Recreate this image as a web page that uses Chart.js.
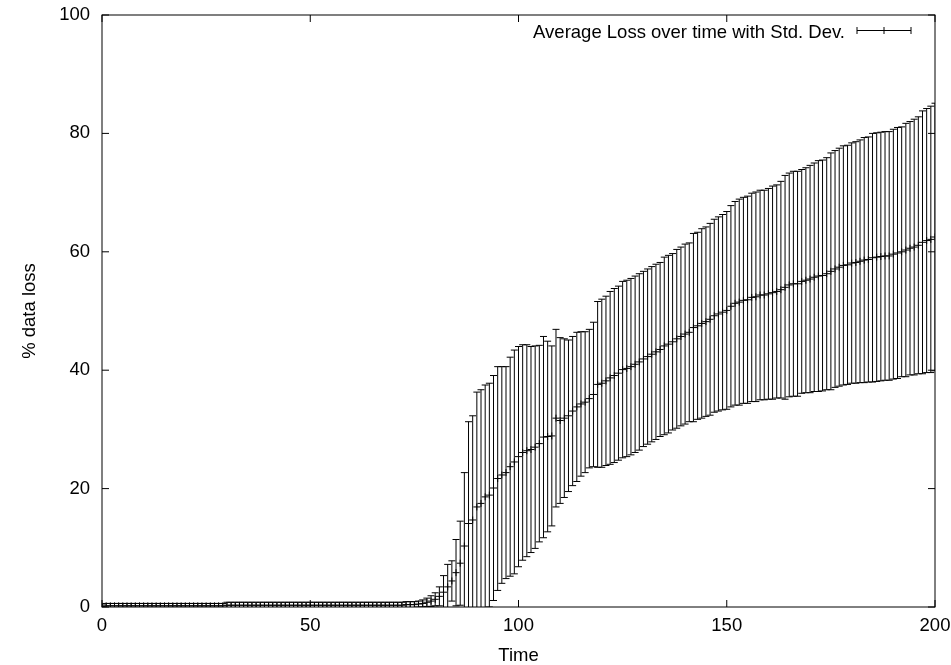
<!DOCTYPE html>
<html>
<head>
<meta charset="utf-8">
<title>Average Loss over time</title>
<script src="https://cdn.jsdelivr.net/npm/chart.js@4/dist/chart.umd.min.js"></script>
<style>
    html, body { margin: 0; padding: 0; background: #fff; }
    #lossChart { display: block; }
</style>
</head>
<body>
<canvas id="lossChart" width="951" height="665"></canvas>
<script>
// Datos (gnuplot, yerrorbars)

// Media de la perdida para cada paso de tiempo t = 0..200
const meanLoss = [
    0.1, 0.2, 0.2, 0.2, 0.2, 0.2, 0.2, 0.2, 0.2, 0.2,
    0.2, 0.2, 0.2, 0.2, 0.2, 0.2, 0.2, 0.2, 0.2, 0.2,
    0.2, 0.2, 0.2, 0.2, 0.2, 0.2, 0.2, 0.2, 0.2, 0.2,
    0.3, 0.3, 0.3, 0.3, 0.3, 0.3, 0.3, 0.3, 0.3, 0.3,
    0.3, 0.3, 0.3, 0.3, 0.3, 0.3, 0.3, 0.3, 0.3, 0.3,
    0.3, 0.3, 0.3, 0.3, 0.3, 0.3, 0.3, 0.3, 0.3, 0.3,
    0.3, 0.3, 0.3, 0.3, 0.3, 0.3, 0.3, 0.3, 0.3, 0.3,
    0.3, 0.3, 0.3, 0.4, 0.4,
    0.4, 0.5, 0.6, 0.8, 1.0, 1.3, 1.8, 2.5, 3.4, 4.4, 5.8, 7.4, 10.3, 14.1, 14.7, 16.9, 17.5, 18.6, 18.9,
    20.1, 21.7, 22.3, 22.7, 23.7, 24.5, 25.4, 26.1, 26.4, 26.6, 27.0, 27.6, 28.7, 28.8, 28.9, 31.9,
    31.5, 31.9, 32.3, 33.1, 33.8, 34.3, 34.6, 35.2, 35.9, 37.6, 37.8, 38.2, 38.7, 39.1, 39.5, 40.1, 40.3,
    40.6, 41.0, 41.4, 41.9, 42.3, 42.7, 43.1, 43.5, 44.1, 44.4, 44.8, 45.3, 45.7, 46.1, 46.4, 47.2,
    47.5, 47.9, 48.2, 48.6, 49.2, 49.5, 49.8, 50.1, 50.8,
    51.3, 51.5, 51.8, 51.9, 52.3, 52.4, 52.7, 52.7, 52.9, 53.1, 53.3, 53.6, 54.0, 54.4, 54.6, 54.6,
    55.0, 55.2, 55.4, 55.7, 55.9, 56.0, 56.3, 56.7, 57.1,
    57.4, 57.7, 57.8, 58.1, 58.2, 58.4, 58.6, 58.7, 59.0, 59.1, 59.2, 59.3, 59.3, 59.6, 59.8, 60.0,
    60.3, 60.6, 60.8, 61.1, 61.6, 61.9, 62.1, 62.5
];

// Desviacion estandar para cada paso de tiempo
const stdDev = [
    0.4, 0.4, 0.4, 0.4, 0.4, 0.4, 0.4, 0.4, 0.4, 0.4,
    0.4, 0.4, 0.4, 0.4, 0.4, 0.4, 0.4, 0.4, 0.4, 0.4,
    0.4, 0.4, 0.4, 0.4, 0.4, 0.4, 0.4, 0.4, 0.4, 0.4,
    0.5, 0.5, 0.5, 0.5, 0.5, 0.5, 0.5, 0.5, 0.5, 0.5,
    0.5, 0.5, 0.5, 0.5, 0.5, 0.5, 0.5, 0.5, 0.5, 0.5,
    0.5, 0.5, 0.5, 0.5, 0.5, 0.5, 0.5, 0.5, 0.5, 0.5,
    0.5, 0.5, 0.5, 0.5, 0.5, 0.5, 0.5, 0.5, 0.5, 0.5,
    0.5, 0.5, 0.5, 0.5, 0.5,
    0.5, 0.5, 0.6, 0.7, 0.9, 1.1, 1.6, 2.8, 3.8, 3.4, 5.6, 7.1, 12.4, 17.2, 17.6, 19.4, 19.2, 18.9, 18.9,
    19.0, 18.9, 18.3, 17.9, 18.5, 18.9, 18.6, 18.2, 17.9, 17.4, 17.1, 16.6, 17.0, 16.1, 15.2, 15.0,
    14.0, 13.4, 12.8, 12.6, 12.6, 12.2, 11.9, 11.7, 12.2, 14.0, 14.2, 14.3, 14.6, 14.7, 14.7, 14.9, 14.9,
    14.9, 14.9, 14.9, 14.8, 14.8, 14.8, 14.8, 14.7, 15.0, 15.0, 14.9, 15.1, 15.1, 15.2, 15.1, 15.9,
    15.8, 16.0, 16.0, 16.2, 16.3, 16.4, 16.5, 16.7, 17.0,
    17.2, 17.4, 17.4, 17.5, 17.6, 17.7, 17.7, 17.7, 17.8, 18.0, 18.0, 18.3, 18.9, 18.9, 19.0, 19.0,
    18.9, 19.0, 19.2, 19.3, 19.5, 19.5, 19.6, 20.0, 20.0,
    20.1, 20.2, 20.2, 20.3, 20.4, 20.5, 20.7, 20.7, 21.0, 21.0, 21.0, 21.0, 21.0, 21.1, 21.2, 21.1,
    21.4, 21.4, 21.6, 21.7, 22.2, 22.3, 22.5, 22.6
];

// Marcas de los ejes
const xTicks = [0, 50, 100, 150, 200];
const yTicks = [0, 20, 40, 60, 80, 100];

const legendText = 'Average Loss over time with Std. Dev.';

Chart.defaults.font.family = '"Liberation Sans", Arial, Helvetica, sans-serif';
Chart.defaults.font.size = 18.5;
Chart.defaults.color = '#000';

// Puntos (t, media); el tiempo es el indice de la medida
const points = meanLoss.map((m, i) => ({ x: i, y: m }));

// Barras de error verticales con sus topes
const errorBarsPlugin = {
    id: 'errorBars',
    beforeDatasetsDraw(chart) {
        const { ctx, chartArea, scales } = chart;
        const xs = scales.x;
        const ys = scales.y;
        ctx.save();
        ctx.beginPath();
        ctx.rect(chartArea.left, chartArea.top, chartArea.right - chartArea.left, chartArea.bottom - chartArea.top);
        ctx.clip();
        ctx.strokeStyle = '#000';
        ctx.lineWidth = 1;
        const cap = 3.5;
        ctx.beginPath();
        points.forEach((p, i) => {
            const x = xs.getPixelForValue(p.x);
            const yHi = ys.getPixelForValue(p.y + stdDev[i]);
            const yLo = ys.getPixelForValue(p.y - stdDev[i]);
            ctx.moveTo(x, yHi);
            ctx.lineTo(x, yLo);
            ctx.moveTo(x - cap, yHi);
            ctx.lineTo(x + cap, yHi);
            ctx.moveTo(x - cap, yLo);
            ctx.lineTo(x + cap, yLo);
        });
        ctx.stroke();
        ctx.restore();
    },
    afterDraw(chart) {
        const { ctx, chartArea, scales } = chart;
        const { left, right, top, bottom } = chartArea;
        const tick = 7;
        ctx.save();
        ctx.strokeStyle = '#000';
        ctx.lineWidth = 1;
        // marco
        ctx.strokeRect(left, top, right - left, bottom - top);
        // marcas hacia dentro en los cuatro lados
        ctx.beginPath();
        xTicks.forEach(v => {
            const x = scales.x.getPixelForValue(v);
            ctx.moveTo(x, bottom);
            ctx.lineTo(x, bottom - tick);
            ctx.moveTo(x, top);
            ctx.lineTo(x, top + tick);
        });
        yTicks.forEach(v => {
            const y = scales.y.getPixelForValue(v);
            ctx.moveTo(left, y);
            ctx.lineTo(left + tick, y);
            ctx.moveTo(right, y);
            ctx.lineTo(right - tick, y);
        });
        ctx.stroke();

        // leyenda
        ctx.fillStyle = '#000';
        ctx.font = '18.5px "Liberation Sans", Arial, Helvetica, sans-serif';
        ctx.textAlign = 'right';
        ctx.textBaseline = 'alphabetic';
        ctx.fillText(legendText, 845, 38);
        const ly = 30.5;
        const lx1 = 857, lx2 = 911, lxm = 884;
        ctx.beginPath();
        ctx.moveTo(lx1, ly);
        ctx.lineTo(lx2, ly);
        ctx.moveTo(lx1, ly - 3.5);
        ctx.lineTo(lx1, ly + 3.5);
        ctx.moveTo(lx2, ly - 3.5);
        ctx.lineTo(lx2, ly + 3.5);
        ctx.moveTo(lxm, ly - 3.5);
        ctx.lineTo(lxm, ly + 3.5);
        ctx.stroke();
        ctx.restore();
    }
};

new Chart(document.getElementById('lossChart'), {
    type: 'scatter',
    data: {
        datasets: [{
            label: legendText,
            data: points,
            showLine: false,
            pointStyle: 'cross',
            pointRadius: 3.5,
            pointBorderColor: '#000',
            pointBorderWidth: 1,
            borderColor: '#000'
        }]
    },
    options: {
        responsive: false,
        animation: false,
        layout: {
            padding: { top: 15, right: 16, left: 0, bottom: 0 }
        },
        plugins: {
            legend: { display: false },
            tooltip: { enabled: false }
        },
        scales: {
            x: {
                type: 'linear',
                min: 0,
                max: 200,
                afterBuildTicks: scale => {
                    scale.ticks = xTicks.map(v => ({ value: v }));
                },
                afterFit: scale => {
                    scale.height = 58;
                    scale.paddingLeft = 0;
                    scale.paddingRight = 0;
                },
                grid: { display: false, drawTicks: false },
                border: { display: false },
                ticks: { padding: 8, maxRotation: 0 },
                title: {
                    display: true,
                    text: 'Time',
                    font: { lineHeight: 1 },
                    padding: { top: 0, bottom: 0 }
                }
            },
            y: {
                type: 'linear',
                min: 0,
                max: 100,
                afterBuildTicks: scale => {
                    scale.ticks = yTicks.map(v => ({ value: v }));
                },
                afterFit: scale => {
                    scale.width = 102;
                    scale.paddingTop = 0;
                    scale.paddingBottom = 0;
                },
                grid: { display: false, drawTicks: false },
                border: { display: false },
                ticks: { padding: 12 },
                title: {
                    display: true,
                    text: '% data loss',
                    font: { lineHeight: 1 },
                    padding: { top: 21, bottom: 0 }
                }
            }
        }
    },
    plugins: [errorBarsPlugin]
});
</script>
</body>
</html>
